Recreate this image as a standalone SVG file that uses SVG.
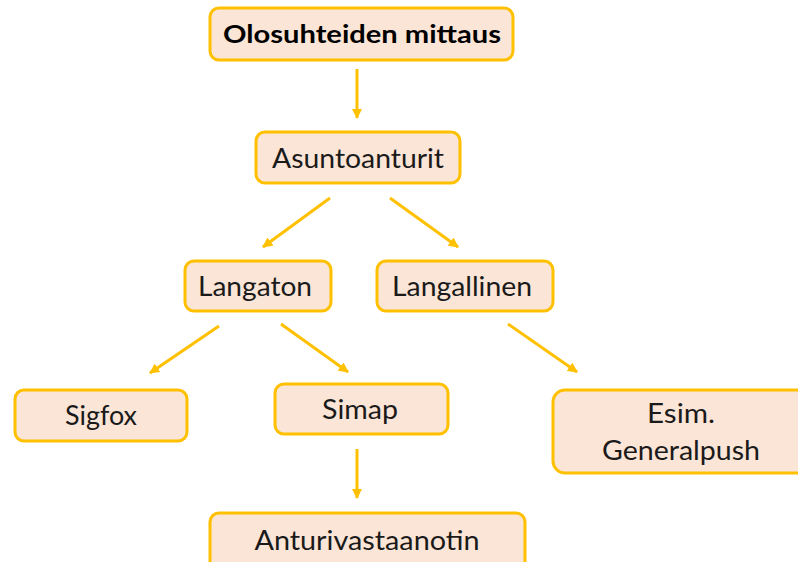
<svg xmlns="http://www.w3.org/2000/svg" width="798" height="562" viewBox="0 0 798 562">
  <style>
    .box { fill: #FBE5D6; stroke: #FFC000; stroke-width: 3; }
    .lbl { font-family: Lato, "Liberation Sans", sans-serif; font-size: 26px; fill: #1a1a1a; text-anchor: middle; }
    .title { font-weight: bold; font-size: 25px; fill: #000; }
    .conn { stroke: #FFC000; stroke-width: 3; fill: none; marker-end: url(#head); }
  </style>
  <defs>
    <marker id="head" viewBox="0 0 10 10" refX="9" refY="5" markerWidth="3.4" markerHeight="3.4" orient="auto" markerUnits="strokeWidth">
      <path d="M0,0 L10,5 L0,10 z" fill="#FFC000"/>
    </marker>
  </defs>

  <rect width="798" height="562" fill="#ffffff"/>

  <g id="connectors">
    <line class="conn" x1="357" y1="69" x2="357" y2="118"/>
    <line class="conn" x1="330" y1="198" x2="263" y2="247"/>
    <line class="conn" x1="390" y1="198" x2="458" y2="247"/>
    <line class="conn" x1="219" y1="326" x2="150" y2="373"/>
    <line class="conn" x1="281" y1="324" x2="348" y2="372"/>
    <line class="conn" x1="508" y1="324" x2="577" y2="372"/>
    <line class="conn" x1="357" y1="449" x2="357" y2="498"/>
  </g>

  <g id="olosuhteiden-mittaus">
    <rect class="box" x="210" y="8" width="303" height="52" rx="9"/>
    <text class="lbl title" x="362" y="43" textLength="278" lengthAdjust="spacingAndGlyphs">Olosuhteiden mittaus</text>
  </g>

  <g id="asuntoanturit">
    <rect class="box" x="256" y="132" width="204" height="51" rx="9"/>
    <text class="lbl" x="358" y="168" textLength="172" lengthAdjust="spacingAndGlyphs">Asuntoanturit</text>
  </g>

  <g id="langaton">
    <rect class="box" x="185" y="261" width="146" height="50" rx="9"/>
    <text class="lbl" x="255" y="296" textLength="114" lengthAdjust="spacingAndGlyphs">Langaton</text>
  </g>

  <g id="langallinen">
    <rect class="box" x="377" y="261" width="176" height="50" rx="9"/>
    <text class="lbl" x="462" y="296" textLength="140" lengthAdjust="spacingAndGlyphs">Langallinen</text>
  </g>

  <g id="sigfox">
    <rect class="box" x="15" y="390" width="172" height="51" rx="9"/>
    <text class="lbl" x="101" y="425" textLength="72" lengthAdjust="spacingAndGlyphs">Sigfox</text>
  </g>

  <g id="simap">
    <rect class="box" x="275" y="384" width="173" height="50" rx="9"/>
    <text class="lbl" x="360" y="419" textLength="76" lengthAdjust="spacingAndGlyphs">Simap</text>
  </g>

  <g id="esim-generalpush">
    <rect class="box" x="553" y="390" width="262" height="83" rx="12"/>
    <text class="lbl" x="681" y="423" textLength="68" lengthAdjust="spacingAndGlyphs">Esim.</text>
    <text class="lbl" x="681" y="460" textLength="158" lengthAdjust="spacingAndGlyphs">Generalpush</text>
  </g>

  <g id="anturivastaanotin">
    <rect class="box" x="210" y="513" width="315" height="70" rx="9"/>
    <text class="lbl" x="367" y="550" textLength="225" lengthAdjust="spacingAndGlyphs">Anturivastaanotin</text>
  </g>
</svg>
